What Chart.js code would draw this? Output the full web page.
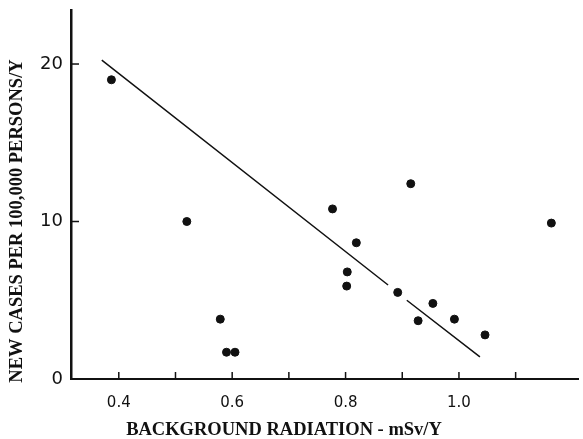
<!DOCTYPE html>
<html>
<head>
<meta charset="utf-8">
<script src="https://cdn.jsdelivr.net/npm/chart.js@4"></script>
<style>
  html, body { margin: 0; padding: 0; background: #fff; }
  #wrap { width: 583px; height: 439px; }
</style>
</head>
<body>
<div id="wrap"><canvas id="chart" width="583" height="439"></canvas></div>
<script>
// 資料
let radiation = [0.387, 0.520, 0.579, 0.590, 0.605, 0.777, 0.803, 0.802, 0.819, 0.892, 0.915, 0.928, 0.954, 0.992, 1.046, 1.163]
let newCases = [19.0, 10.0, 3.8, 1.7, 1.7, 10.8, 6.8, 5.9, 8.65, 5.5, 12.4, 3.7, 4.8, 3.8, 2.8, 9.9]

// fitted line, drawn with a small break near 0.89
let fitX = [0.370, 0.875, 0.89, 0.908, 1.037]
let fitY = [20.25, 5.97, null, 5.0, 1.4]

let xTicks = [0.4, 0.5, 0.6, 0.7, 0.8, 0.9, 1.0, 1.1]
let xLabels = { '0.4': '0.4', '0.6': '0.6', '0.8': '0.8', '1.0': '1.0' }
let yTicks = [0, 10, 20]

let xTitle = 'BACKGROUND RADIATION - mSv/Y'
let yTitle = 'NEW CASES PER 100,000 PERSONS/Y'

let points = radiation.map((x, i) => ({ x: x, y: newCases[i] }))
let fitLine = fitX.map((x, i) => ({ x: x, y: fitY[i] }))

// 刻度線朝內 + 軸標題
const innerTicks = {
    id: 'innerTicks',
    afterDraw(chart) {
        const ctx = chart.ctx
        const xs = chart.scales.x
        const ys = chart.scales.y
        const area = chart.chartArea
        ctx.save()
        ctx.strokeStyle = '#111'
        ctx.lineWidth = 1.5
        xTicks.forEach(v => {
            const px = xs.getPixelForValue(v)
            ctx.beginPath()
            ctx.moveTo(px, area.bottom)
            ctx.lineTo(px, area.bottom - 7)
            ctx.stroke()
        })
        yTicks.forEach(v => {
            if (v === 0) return
            const py = ys.getPixelForValue(v)
            ctx.beginPath()
            ctx.moveTo(area.left, py)
            ctx.lineTo(area.left + 8, py)
            ctx.stroke()
        })

        ctx.fillStyle = '#111'
        ctx.font = 'bold 18.5px "Liberation Serif"'
        ctx.textAlign = 'center'
        ctx.textBaseline = 'middle'
        ctx.fillText(xTitle, 284, 430)

        ctx.translate(17.5, 221)
        ctx.rotate(-Math.PI / 2)
        ctx.fillText(yTitle, 0, 0)
        ctx.restore()
    }
}

var ctx = document.getElementById('chart').getContext('2d')
var chart = new Chart(ctx, {
    type: 'scatter',
    data: {
        datasets: [
            {
                label: 'cases',
                data: points,
                backgroundColor: '#111',
                borderColor: '#111',
                pointRadius: 4,
                pointHoverRadius: 4
            },
            {
                label: 'fit',
                type: 'line',
                data: fitLine,
                borderColor: '#111',
                borderWidth: 1.5,
                pointRadius: 0,
                spanGaps: false,
                fill: false,
                tension: 0
            }
        ]
    },
    options: {
        responsive: false,
        animation: false,
        layout: { padding: { top: 10, left: 0, right: 0, bottom: 0 } },
        plugins: {
            legend: { display: false },
            tooltip: { enabled: false }
        },
        scales: {
            x: {
                type: 'linear',
                min: 0.3157,
                max: 1.21,
                afterFit: s => { s.height = 60; s.paddingLeft = 0; s.paddingRight = 0 },
                afterBuildTicks: s => { s.ticks = xTicks.map(v => ({ value: v })) },
                grid: { display: true, drawOnChartArea: false, drawTicks: false },
                border: { display: true, color: '#111', width: 2 },
                ticks: {
                    color: '#111',
                    padding: 15,
                    font: { family: 'DejaVu Sans', size: 15 },
                    callback: v => xLabels[v.toFixed(1)] || ''
                }
            },
            y: {
                min: 0,
                max: 23.43,
                afterFit: s => { s.width = 71; s.paddingTop = 0; s.paddingBottom = 0 },
                afterBuildTicks: s => { s.ticks = yTicks.map(v => ({ value: v })) },
                grid: { display: true, drawOnChartArea: false, drawTicks: false },
                border: { display: true, color: '#111', width: 2.5 },
                ticks: {
                    color: '#111',
                    padding: 8,
                    font: { family: 'DejaVu Sans', size: 18 },
                    callback: v => String(v)
                }
            }
        }
    },
    plugins: [innerTicks]
})
</script>
</body>
</html>
